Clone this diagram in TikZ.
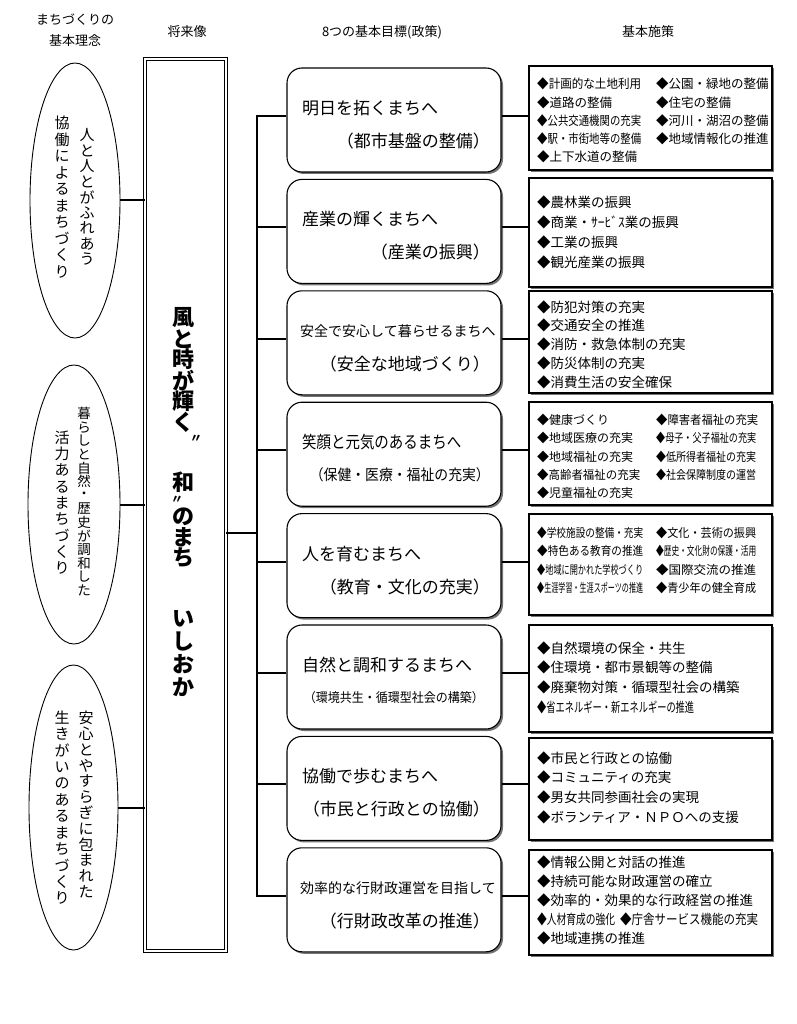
\documentclass[tikz,border=0pt]{standalone}
\usepackage{fontspec}
\usepackage{graphicx}
\setmainfont{Noto Sans CJK JP}
\usetikzlibrary{shapes.geometric,shadows}
\ExplSyntaxOn
\NewDocumentCommand\vstack{mm}{\vbox{\offinterlineskip\tl_map_inline:nn{#2}{\hbox to 1em{\hss\vbox to #1{\vss\hbox{##1}\vss}\hss}}}}
\ExplSyntaxOff
\newcommand\fitw[2]{\resizebox{#1}{\height}{#2}}
\newcommand\fz[2]{\fontsize{#1pt}{#2pt}\selectfont}
\newcommand\ctwo[3]{\makebox[#1][l]{#2}#3}
\begin{document}
\begin{tikzpicture}[x=1pt,y=-1pt]
\tikzset{
  hdr/.style={inner sep=0, font=\fz{13}{15}},
  ell/.style={draw, ellipse, line width=0.9pt, inner sep=0},
  vt/.style={inner sep=0},
  cbox/.style={draw, double, double distance=2.5pt, line width=0.8pt, minimum width=81pt, minimum height=892pt, inner sep=0},
  goal/.style={draw, rounded corners=15pt, line width=1.1pt, fill=white,
    drop shadow={shadow xshift=2pt, shadow yshift=-2pt, fill=black!55, opacity=1},
    minimum width=214pt, minimum height=104pt, inner sep=0},
  meas/.style={draw, line width=1.4pt, fill=white,
    drop shadow={shadow xshift=2pt, shadow yshift=-2pt, fill=black!55, opacity=1},
    minimum width=243pt, inner sep=0},
  conn/.style={line width=2pt},
  gla/.style={anchor=west, inner sep=0, font=\fz{17}{17}},
  glb/.style={anchor=east, inner sep=0, font=\fz{17}{17}},
  mt/.style={anchor=west, inner sep=0, align=left},
}
\useasboundingbox[fill=white] (0,0) rectangle (796,1024);

% headers
\node[hdr] (h1a) at (75,20) {まちづくりの};
\node[hdr] (h1b) at (75,41) {基本理念};
\node[hdr] (h2) at (187,32) {将来像};
\node[hdr] (h3) at (382,32) {8つの基本目標(政策)};
\node[hdr] (h4) at (648,32) {基本施策};

% ellipses
\node[ell, minimum width=90pt, minimum height=275pt] (e1) at (75,200.5) {};
\node[ell, minimum width=92pt, minimum height=279pt] (e2) at (74,504.5) {};
\node[ell, minimum width=89pt, minimum height=285pt] (e3) at (73.5,807.5) {};
\node[vt, font=\fz{15}{15}] (e1r) at (87,197) {\vstack{15.5pt}{人と人とがふれあう}};
\node[vt, font=\fz{15}{15}] (e1l) at (62,197.5) {\vstack{16.5pt}{協働によるまちづくり}};
\node[vt, font=\fz{13.5}{14}] (e2r) at (84,502) {\vstack{13.6pt}{暮らしと自然・歴史が調和した}};
\node[vt, font=\fz{15}{15}] (e2l) at (62,503) {\vstack{16.3pt}{活力あるまちづくり}};
\node[vt, font=\fz{15}{15}] (e3r) at (86,805) {\vstack{15.8pt}{安心とやすらぎに包まれた}};
\node[vt, font=\fz{15}{15}] (e3l) at (62,808) {\vstack{16.4pt}{生きがいのあるまちづくり}};

% central box
\node[cbox] (cb) at (185.5,505) {};
\node[vt, font=\bfseries\fz{22}{22}] (ca) at (183,370) {\vstack{20.8pt}{風と時が輝く}};
\node[vt, font=\bfseries\fz{12}{12}] (cq1) at (196,439) {〃};
\node[vt, font=\bfseries\fz{22}{22}] (cw) at (183,482) {和};
\node[vt, font=\bfseries\fz{12}{12}] (cq2) at (177,500) {〃};
\node[vt, font=\bfseries\fz{22}{22}] (cc) at (183,537.5) {\vstack{20.5pt}{のまち}};
\node[vt, font=\bfseries\fz{22}{22}] (cd) at (183,653) {\vstack{23pt}{いしおか}};

\draw[conn] (e1.east) -- (e1.east -| cb.west);
\draw[conn] (e2.east) -- (e2.east -| cb.west);
\draw[conn] (e3.east) -- (e3.east -| cb.west);

% goal boxes
\node[goal] (g1) at (394,120) {};
\node[goal] (g2) at (394,231.4) {};
\node[goal] (g3) at (394,342.8) {};
\node[goal] (g4) at (394,454.2) {};
\node[goal] (g5) at (394,565.6) {};
\node[goal] (g6) at (394,677) {};
\node[goal] (g7) at (394,788.4) {};
\node[goal] (g8) at (394,899.8) {};

\node[gla] (g1a) at (302,108) {明日を拓くまちへ};
\node[glb] (g1b) at (490,141) {（都市基盤の整備）};
\node[gla] (g2a) at (302,219.4) {産業の輝くまちへ};
\node[glb] (g2b) at (490,252.4) {（産業の振興）};
\node[gla, font=\fz{14}{14}] (g3a) at (300,330.8) {安全で安心して暮らせるまちへ};
\node[glb] (g3b) at (490,363.8) {（安全な地域づくり）};
\node[gla] (g4a) at (302,442.2) {\fitw{159pt}{笑顔と元気のあるまちへ}};
\node[glb, font=\fz{15}{15}] (g4b) at (490,475.2) {\fitw{180pt}{（保健・医療・福祉の充実）}};
\node[gla] (g5a) at (302,553.6) {人を育むまちへ};
\node[glb] (g5b) at (490,586.6) {（教育・文化の充実）};
\node[gla] (g6a) at (302,665) {自然と調和するまちへ};
\node[glb, font=\fz{13}{13}] (g6b) at (484,698) {\fitw{180pt}{（環境共生・循環型社会の構築）}};
\node[gla] (g7a) at (302,776.4) {協働で歩むまちへ};
\node[glb] (g7b) at (490,809.4) {（市民と行政との協働）};
\node[gla, font=\fz{14}{14}] (g8a) at (300,887.8) {効率的な行財政運営を目指して};
\node[glb] (g8b) at (490,920.8) {（行財政改革の推進）};

% measure boxes
\node[meas, minimum height=104pt] (m1) at (650.5,118) {};
\node[meas, minimum height=109pt] (m2) at (650.5,232.5) {};
\node[meas, minimum height=102pt] (m3) at (650.5,342) {};
\node[meas, minimum height=103pt] (m4) at (650.5,453.5) {};
\node[meas, minimum height=101pt] (m5) at (650.5,564.5) {};
\node[meas, minimum height=107pt] (m6) at (650.5,678.5) {};
\node[meas, minimum height=102pt] (m7) at (650.5,789) {};
\node[meas, minimum height=105pt] (m8) at (650.5,902.5) {};

\node[mt, font=\fz{12.5}{18.2}] (t1) at (537,120.5) {%
\ctwo{119pt}{\fitw{104pt}{◆計画的な土地利用}}{◆公園・緑地の整備}\\
\ctwo{119pt}{◆道路の整備}{◆住宅の整備}\\
\ctwo{119pt}{\fitw{104pt}{◆公共交通機関の充実}}{◆河川・湖沼の整備}\\
\ctwo{119pt}{\fitw{104pt}{◆駅・市街地等の整備}}{◆地域情報化の推進}\\
◆上下水道の整備};
\node[mt, font=\fz{13.5}{20}] (t2) at (537,232) {%
◆農林業の振興\\◆商業・ｻｰﾋﾞｽ業の振興\\◆工業の振興\\◆観光産業の振興};
\node[mt, font=\fz{13.5}{18.7}] (t3) at (537,344.5) {%
◆防犯対策の充実\\◆交通安全の推進\\◆消防・救急体制の充実\\◆防災体制の充実\\◆消費生活の安全確保};
\node[mt, font=\fz{12}{18.2}] (t4) at (537,456.5) {%
\ctwo{119pt}{◆健康づくり}{\fitw{102pt}{◆障害者福祉の充実}}\\
\ctwo{119pt}{◆地域医療の充実}{\fitw{100pt}{◆母子・父子福祉の充実}}\\
\ctwo{119pt}{◆地域福祉の充実}{\fitw{100pt}{◆低所得者福祉の充実}}\\
\ctwo{119pt}{\fitw{103pt}{◆高齢者福祉の充実}}{\fitw{100pt}{◆社会保障制度の運営}}\\
◆児童福祉の充実};
\node[mt, font=\fz{12}{18.3}] (t5) at (537,560.5) {%
\ctwo{119pt}{\fitw{106pt}{◆学校施設の整備・充実}}{\fitw{100pt}{◆文化・芸術の振興}}\\
\ctwo{119pt}{\fitw{106pt}{◆特色ある教育の推進}}{\fitw{100pt}{◆歴史・文化財の保護・活用}}\\
\ctwo{119pt}{\fitw{106pt}{◆地域に開かれた学校づくり}}{\fitw{100pt}{◆国際交流の推進}}\\
\ctwo{119pt}{\fitw{106pt}{◆生涯学習・生涯スポーツの推進}}{\fitw{100pt}{◆青少年の健全育成}}};
\node[mt, font=\fz{13.5}{19.7}] (t6) at (537,677.5) {%
◆自然環境の保全・共生\\◆住環境・都市景観等の整備\\◆廃棄物対策・循環型社会の構築\\\fitw{157pt}{◆省エネルギー・新エネルギーの推進}};
\node[mt, font=\fz{13.5}{19.7}] (t7) at (537,787.5) {%
◆市民と行政との協働\\◆コミュニティの充実\\◆男女共同参画社会の実現\\◆ボランティア・ＮＰＯへの支援};
\node[mt, font=\fz{13.5}{19}] (t8) at (537,900) {%
◆情報公開と対話の推進\\◆持続可能な財政運営の確立\\◆効率的・効果的な行政経営の推進\\
\ctwo{83pt}{\fitw{78pt}{◆人材育成の強化}}{\fitw{138pt}{◆庁舎サービス機能の充実}}\\◆地域連携の推進};

% connectors
\coordinate (tk) at (257,533);
\foreach \i in {1,...,8}{
  \coordinate (b\i) at ([yshift=4pt]g\i.west);
  \coordinate (r\i) at ([yshift=4pt]g\i.east);
}
\draw[conn] (cb.east |- tk) -- (tk);
\draw[conn] (b1) -- (tk |- b1) -- (tk |- b8) -- (b8);
\foreach \i in {2,...,7}{\draw[conn] (tk |- b\i) -- (b\i);}
\foreach \i in {1,...,8}{\draw[conn] (r\i) -- (r\i -| m\i.west);}
\end{tikzpicture}
\end{document}
